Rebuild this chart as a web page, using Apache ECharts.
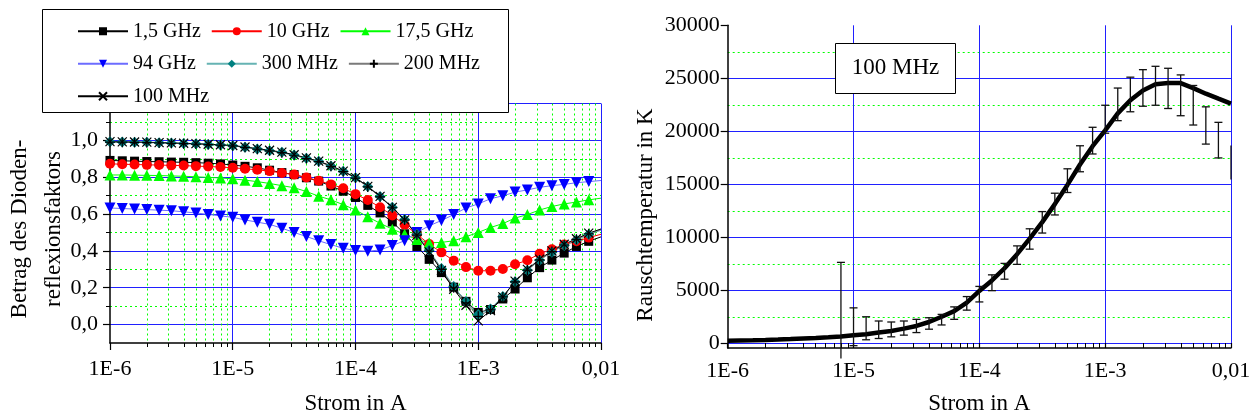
<!DOCTYPE html>
<html>
<head>
<meta charset="utf-8">
<script src="https://cdn.jsdelivr.net/npm/echarts@6/dist/echarts.min.js"></script>
<style>
  html, body { margin: 0; padding: 0; background: #fff; }
  #chart { width: 1259px; height: 420px; }
</style>
</head>
<body>
<div id="chart"></div>
<script>
// Diode current in A, ten steps per decade (1E-6 ... 0,01)
const strom = [
  1e-6, 1.259e-6, 1.585e-6, 1.995e-6, 2.512e-6, 3.162e-6, 3.981e-6, 5.012e-6, 6.310e-6, 7.943e-6,
  1e-5, 1.259e-5, 1.585e-5, 1.995e-5, 2.512e-5, 3.162e-5, 3.981e-5, 5.012e-5, 6.310e-5, 7.943e-5,
  1e-4, 1.259e-4, 1.585e-4, 1.995e-4, 2.512e-4, 3.162e-4, 3.981e-4, 5.012e-4, 6.310e-4, 7.943e-4,
  1e-3, 1.259e-3, 1.585e-3, 1.995e-3, 2.512e-3, 3.162e-3, 3.981e-3, 5.012e-3, 6.310e-3, 7.943e-3,
  1e-2
];

// Magnitude of the diode reflection coefficient per frequency
const refl_1_5GHz = [
  0.891, 0.889, 0.887, 0.885, 0.884, 0.882, 0.881, 0.879, 0.876, 0.872,
  0.866, 0.859, 0.851, 0.838, 0.825, 0.814, 0.797, 0.779, 0.752, 0.724,
  0.690, 0.647, 0.606, 0.557, 0.493, 0.424, 0.354, 0.282, 0.203, 0.126,
  0.066, 0.082, 0.139, 0.193, 0.254, 0.309, 0.350, 0.388, 0.424, 0.452, 0.476
];
const refl_10GHz = [
  0.873, 0.870, 0.869, 0.867, 0.866, 0.864, 0.863, 0.860, 0.858, 0.855,
  0.851, 0.846, 0.840, 0.833, 0.823, 0.814, 0.798, 0.781, 0.761, 0.740,
  0.708, 0.676, 0.637, 0.592, 0.542, 0.490, 0.437, 0.392, 0.347, 0.312,
  0.292, 0.292, 0.302, 0.327, 0.349, 0.384, 0.409, 0.434, 0.452, 0.472, 0.490
];
const refl_17_5GHz = [
  0.812, 0.812, 0.811, 0.810, 0.809, 0.807, 0.805, 0.802, 0.799, 0.796,
  0.791, 0.784, 0.776, 0.766, 0.754, 0.743, 0.722, 0.697, 0.677, 0.651,
  0.622, 0.585, 0.550, 0.518, 0.490, 0.462, 0.444, 0.446, 0.455, 0.477,
  0.500, 0.527, 0.548, 0.578, 0.597, 0.622, 0.641, 0.655, 0.665, 0.677, 0.686
];
const refl_94GHz = [
  0.633, 0.630, 0.627, 0.624, 0.621, 0.618, 0.612, 0.606, 0.598, 0.590,
  0.582, 0.568, 0.556, 0.544, 0.523, 0.500, 0.478, 0.455, 0.434, 0.414,
  0.402, 0.398, 0.405, 0.429, 0.455, 0.500, 0.536, 0.565, 0.597, 0.633,
  0.655, 0.683, 0.699, 0.719, 0.731, 0.745, 0.754, 0.761, 0.770, 0.776, 0.782
];
const refl_300MHz = [
  0.992, 0.991, 0.990, 0.989, 0.987, 0.985, 0.983, 0.981, 0.978, 0.975,
  0.971, 0.963, 0.953, 0.944, 0.935, 0.921, 0.903, 0.886, 0.861, 0.832,
  0.797, 0.749, 0.695, 0.637, 0.571, 0.490, 0.403, 0.305, 0.207, 0.125,
  0.055, 0.085, 0.153, 0.233, 0.295, 0.349, 0.393, 0.429, 0.459, 0.489, 0.512
];
const refl_200MHz = [
  0.990, 0.990, 0.989, 0.988, 0.986, 0.984, 0.982, 0.980, 0.977, 0.974,
  0.970, 0.962, 0.952, 0.943, 0.933, 0.919, 0.901, 0.884, 0.859, 0.830,
  0.795, 0.747, 0.693, 0.634, 0.567, 0.486, 0.398, 0.300, 0.200, 0.118,
  0.045, 0.080, 0.150, 0.232, 0.296, 0.351, 0.396, 0.432, 0.463, 0.493, 0.516
];
const refl_100MHz = [
  0.993, 0.992, 0.991, 0.990, 0.988, 0.986, 0.984, 0.982, 0.979, 0.976,
  0.972, 0.964, 0.955, 0.946, 0.936, 0.922, 0.905, 0.887, 0.862, 0.833,
  0.798, 0.750, 0.696, 0.636, 0.568, 0.484, 0.394, 0.294, 0.192, 0.105,
  0.020, 0.076, 0.150, 0.236, 0.300, 0.355, 0.400, 0.436, 0.466, 0.496, 0.519
];

// Noise temperature in K at 100 MHz (fitted curve)
const rauschTemp = [
  250, 275, 300, 330, 365, 410, 470, 520, 580, 650,
  780, 870, 1030, 1180, 1400, 1650, 2020, 2520, 3050, 3850,
  4950, 5940, 7090, 8420, 9880, 11440, 13140, 14950, 16870, 18600,
  20100, 21690, 22930, 23860, 24450, 24550, 24550, 24080, 23550, 23080, 22620
];
// Measured spread (lower / upper bound), from 7,94E-6 A upwards
const fehlerStrom = strom.slice(9);
const fehlerMin = [
  -1430, -210, 345, 466, 624, 783, 1025, 1342, 1743, 2274,
  3141, 3914, 4977, 6058, 7456, 8891, 10410, 12116, 14232, 16189,
  17866, 19824, 21007, 21846, 22368, 22461, 22154, 21473, 20597, 18798,
  17494, 15471
];
const fehlerMax = [
  7644, 3355, 2516, 2116, 2022, 2116, 2274, 2423, 2740, 3448,
  4420, 5378, 6468, 7549, 9199, 10811, 12433, 14166, 16468, 18640,
  20383, 22461, 24083, 25108, 25816, 26133, 25947, 25322, 24325, 22312,
  20849, 18677
];

// Tick labels
const xTickLabels = ['1E-6', '1E-5', '1E-4', '1E-3', '0,01'];
const reflMajor = [0, 0.2, 0.4, 0.6, 0.8, 1.0, 1.2];
const reflLabels = [0, 0.2, 0.4, 0.6, 0.8, 1.0];
const reflMinor = [0.1, 0.3, 0.5, 0.7, 0.9, 1.1];
const tempMajor = [0, 5000, 10000, 15000, 20000, 25000, 30000];
const tempMinor = [2500, 7500, 12500, 17500, 22500, 27500];

// minor decade positions 2..9 on the log axes, as exponents
const minorExp = [];
for (let d = -6; d <= -3; d++) {
  for (let m = 2; m <= 9; m++) minorExp.push(Math.log10(m) + d);
}

const FONT = 'Liberation Serif';
const BLUE = '#2020ff';
const GREEN = '#00ff00';
const DOTS = [2, 3];
const txt = { fontFamily: FONT, fontSize: 22, color: '#000' };

const chart = echarts.init(document.getElementById('chart'), null, { renderer: 'canvas' });

function reflSeries(name, values, symbol, size, color, lineColor, extra) {
  return Object.assign({
    name: name,
    type: 'line',
    xAxisIndex: 0,
    yAxisIndex: 0,
    symbol: symbol,
    symbolSize: size,
    showAllSymbol: true,
    color: color,
    itemStyle: { color: color },
    lineStyle: { color: lineColor, width: 1 },
    emphasis: { disabled: true },
    data: strom.map((x, i) => i < strom.length - 1
      ? [x, values[i]]
      : { value: [x, values[i]], symbol: 'none' })
  }, extra || {});
}

const option = {
  animation: false,
  backgroundColor: '#fff',
  grid: [
    { left: 110, top: 103.5, width: 491, height: 244, containLabel: false },
    { left: 727.7, top: 25.3, width: 503.3, height: 327, containLabel: false }
  ],
  legend: {
    data: ['1,5 GHz', '10 GHz', '17,5 GHz', '94 GHz', '300 MHz', '200 MHz', '100 MHz'],
    left: 77, top: 20, width: 420,
    padding: 0, itemGap: 10, itemWidth: 50, itemHeight: 10,
    selectedMode: false, z: 60,
    textStyle: { fontFamily: FONT, fontSize: 20, color: '#000', lineHeight: 22.5 }
  },
  xAxis: [
    {
      gridIndex: 0, type: 'log', logBase: 10, min: 1e-6, max: 1e-2, position: 'bottom',
      axisLine: { onZero: false, lineStyle: { color: '#000', width: 1.5 } },
      axisTick: { length: 7, lineStyle: { color: '#000', width: 1.2 } },
      axisLabel: Object.assign({ margin: 15, formatter: v => xTickLabels[Math.round(Math.log10(v)) + 6] }, txt),
      splitLine: { show: true, showMinLine: false, showMaxLine: false, lineStyle: { color: BLUE, width: 1 } },
      name: 'Strom in A', nameLocation: 'middle', nameGap: 49,
      nameTextStyle: { fontFamily: FONT, fontSize: 23, color: '#000' }
    },
    {
      gridIndex: 0, type: 'value', min: -6, max: -2, position: 'bottom',
      axisLine: { show: false, onZero: false },
      axisTick: { show: true, length: 4, customValues: minorExp, lineStyle: { color: '#000', width: 1 } },
      axisLabel: { show: false },
      splitLine: { show: true, lineStyle: { color: GREEN, type: DOTS, width: 1 } }
    },
    {
      gridIndex: 1, type: 'log', logBase: 10, min: 1e-6, max: 1e-2, position: 'bottom',
      axisLine: { onZero: false, lineStyle: { color: '#000', width: 1.5 } },
      axisTick: { inside: true, length: 5, lineStyle: { color: '#000', width: 1.2 } },
      axisLabel: Object.assign({ margin: 12, formatter: v => xTickLabels[Math.round(Math.log10(v)) + 6] }, txt),
      splitLine: { show: true, showMinLine: false, showMaxLine: false, lineStyle: { color: BLUE, width: 1 } },
      name: 'Strom in A', nameLocation: 'middle', nameGap: 44,
      nameTextStyle: { fontFamily: FONT, fontSize: 23, color: '#000' }
    },
    {
      gridIndex: 1, type: 'value', min: -6, max: -2, position: 'bottom',
      axisLine: { show: false, onZero: false },
      axisTick: { show: true, inside: true, length: 5, customValues: minorExp, lineStyle: { color: '#000', width: 1 } },
      axisLabel: { show: false },
      splitLine: { show: false }
    }
  ],
  yAxis: [
    {
      gridIndex: 0, type: 'value', min: -0.1, max: 1.2, position: 'left',
      axisLine: { show: true, onZero: false, lineStyle: { color: '#000', width: 1.5 } },
      axisTick: { length: 7, customValues: reflMajor, lineStyle: { color: '#000', width: 1.2 } },
      axisLabel: Object.assign({ margin: 12, customValues: reflLabels, formatter: v => v.toFixed(1).replace('.', ',') }, txt),
      splitLine: { show: true, lineStyle: { color: BLUE, width: 1 } }
    },
    {
      gridIndex: 0, type: 'value', min: -0.1, max: 1.2, position: 'left',
      axisLine: { show: false, onZero: false },
      axisTick: { show: true, length: 4, customValues: reflMinor, lineStyle: { color: '#000', width: 1 } },
      axisLabel: { show: false },
      splitLine: { show: true, lineStyle: { color: GREEN, type: DOTS, width: 1 } }
    },
    {
      gridIndex: 1, type: 'value', min: -430, max: 30000, position: 'left',
      axisLine: { show: true, onZero: false, lineStyle: { color: '#000', width: 1.5 } },
      axisTick: { length: 7, customValues: tempMajor, lineStyle: { color: '#000', width: 1.2 } },
      axisLabel: Object.assign({ margin: 8, customValues: tempMajor, formatter: v => String(v) }, txt),
      splitLine: { show: true, showMaxLine: false, lineStyle: { color: BLUE, width: 1 } }
    },
    {
      gridIndex: 1, type: 'value', min: -430, max: 30000, position: 'left',
      axisLine: { show: false, onZero: false },
      axisTick: { show: false, customValues: tempMinor },
      axisLabel: { show: false },
      splitLine: { show: true, lineStyle: { color: GREEN, type: DOTS, width: 1 } }
    }
  ],
  series: [
    reflSeries('1,5 GHz', refl_1_5GHz, 'rect', 9, '#000000', '#000000'),
    reflSeries('10 GHz', refl_10GHz, 'circle', 10, '#ff0000', '#ff0000'),
    reflSeries('17,5 GHz', refl_17_5GHz, 'triangle', 11, '#00ff00', '#00ff00'),
    reflSeries('94 GHz', refl_94GHz, 'triangle', 11, '#0000ff', '#6c6cff', { symbolRotate: 180 }),
    reflSeries('300 MHz', refl_300MHz, 'diamond', 11, '#008080', '#66b3b3'),
    reflSeries('200 MHz', refl_200MHz, 'path://M0,5L10,5M5,0L5,10', 10, '#000000', '#7a7a7a',
      { itemStyle: { color: '#000', borderColor: '#000', borderWidth: 1.2 } }),
    reflSeries('100 MHz', refl_100MHz, 'path://M0,0L10,10M10,0L0,10', 9, '#000000', '#000000',
      { itemStyle: { color: '#000', borderColor: '#000', borderWidth: 1.2 } }),
    {
      name: 'Rauschtemperatur',
      type: 'line',
      xAxisIndex: 2, yAxisIndex: 2,
      symbol: 'none',
      lineStyle: { color: '#000', width: 4.5 },
      emphasis: { disabled: true },
      z: 3,
      data: strom.map((x, i) => [x, rauschTemp[i]])
    },
    {
      name: 'Streuung',
      type: 'custom',
      xAxisIndex: 2, yAxisIndex: 2,
      z: 4,
      encode: { x: 0, y: [1, 2] },
      data: fehlerStrom.map((x, i) => [x, fehlerMin[i], fehlerMax[i]]),
      renderItem: function (params, api) {
        const x = api.value(0);
        const lo = api.coord([x, api.value(1)]);
        const hi = api.coord([x, api.value(2)]);
        const cs = params.coordSys;
        const half = 4;
        const style = { stroke: '#111', lineWidth: 1.3 };
        // a cap is only drawn when it lies fully inside the plot area
        const capFits = p => p[0] - half >= cs.x - 0.5 && p[0] + half <= cs.x + cs.width + 0.5 &&
          p[1] >= cs.y - 0.5 && p[1] <= cs.y + cs.height + 0.5;
        const children = [{ type: 'line', shape: { x1: lo[0], y1: lo[1], x2: hi[0], y2: hi[1] }, style: style }];
        [lo, hi].forEach(p => {
          if (capFits(p)) {
            children.push({ type: 'line', shape: { x1: p[0] - half, y1: p[1], x2: p[0] + half, y2: p[1] }, style: style });
          }
        });
        return { type: 'group', children: children };
      }
    }
  ],
  graphic: [
    {
      type: 'rect', z: 50,
      shape: { x: 42.5, y: 9.5, width: 466, height: 103 },
      style: { fill: '#fff', stroke: '#000', lineWidth: 1 }
    },
    {
      type: 'rect', z: 50,
      shape: { x: 835.5, y: 43.5, width: 120, height: 50 },
      style: { fill: '#fff', stroke: '#000', lineWidth: 1 }
    },
    {
      type: 'text', z: 51, x: 895.5, y: 68,
      style: { text: '100 MHz', fontFamily: FONT, fontSize: 23, fill: '#000', align: 'center', verticalAlign: 'middle' }
    },
    {
      type: 'text', z: 51, x: 37, y: 229, rotation: Math.PI / 2,
      style: {
        text: 'Betrag des Dioden-\nreflexionsfaktors', fontFamily: FONT, fontSize: 23, lineHeight: 34,
        fill: '#000', align: 'center', verticalAlign: 'middle'
      }
    },
    {
      type: 'text', z: 51, x: 646, y: 215, rotation: Math.PI / 2,
      style: { text: 'Rauschtemperatur in K', fontFamily: FONT, fontSize: 23, fill: '#000', align: 'center', verticalAlign: 'middle' }
    }
  ]
};

chart.setOption(option);
</script>
</body>
</html>
